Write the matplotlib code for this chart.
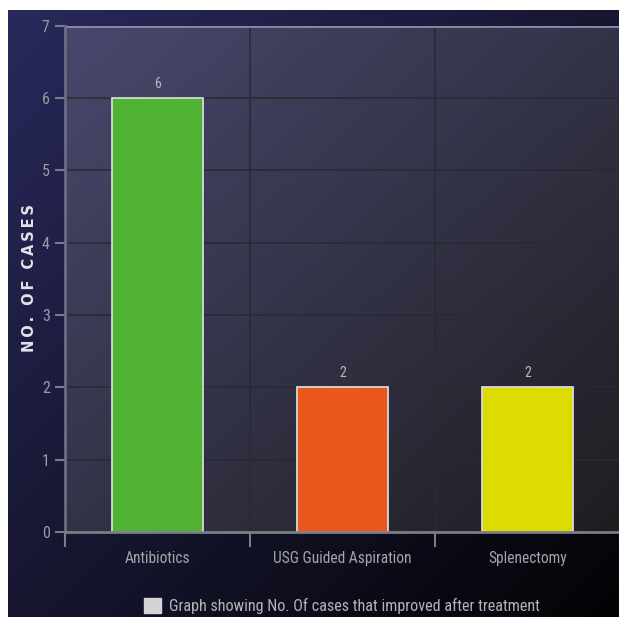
import numpy as np
import matplotlib
matplotlib.use("Agg")
import matplotlib.pyplot as plt
import matplotlib.patches as mpatches
from matplotlib.colors import to_rgb

categories = ["Antibiotics", "USG Guided Aspiration", "Splenectomy"]
cases = [6, 2, 2]
bar_colors = ["#4fb233", "#ea561c", "#dcdc00"]
y_ticks = [0, 1, 2, 3, 4, 5, 6, 7]
legend_label = "Graph showing No. Of cases that improved after treatment"

narrow = ["Roboto Condensed", "Roboto", "DejaVu Sans"]


def gradient(c0, c1, n=200):
    """diagonal gradient, c0 top-left -> c1 bottom-right"""
    a, b = np.array(to_rgb(c0)), np.array(to_rgb(c1))
    xx, yy = np.meshgrid(np.linspace(0, 1, n), np.linspace(0, 1, n))
    t = ((xx + yy) / 2.0)[..., None]
    return a * (1 - t) + b * t


fig = plt.figure(figsize=(6.19, 6.17), dpi=100)
fig.patch.set_facecolor("white")

# dark backdrop of the whole chart
bg = fig.add_axes([8 / 619, 0, 611 / 619, 607 / 617])
bg.imshow(gradient("#29295c", "#030305"), aspect="auto", extent=[0, 1, 0, 1])
bg.axis("off")

ax = fig.add_axes([65 / 619, 85 / 617, 555 / 619, 506.5 / 617])
ax.set_facecolor("none")
ax.imshow(gradient("#48486e", "#1e1e21"), aspect="auto", extent=[0, 1, 0, 1],
          transform=ax.transAxes, zorder=0)

x = np.arange(len(categories))
ax.bar(x, cases, width=0.49, color=bar_colors, edgecolor="#d8d8d8",
       linewidth=1.3, zorder=3)

for xi, v in zip(x, cases):
    ax.annotate(str(v), (xi, v), xytext=(0, 5), textcoords="offset points",
                ha="center", va="bottom", color="#b8b8c0", fontsize=10,
                family=narrow, zorder=4)

ax.set_xlim(-0.5, 2.5)
ax.set_ylim(0, 7)

# gridlines
for yv in y_ticks[1:-1]:
    ax.axhline(yv, color="#2a2a32", linewidth=1.1, zorder=1)
ax.axhline(7, color="#8a8aa4", linewidth=2, zorder=2)
for xv in [0.5, 1.5]:
    ax.axvline(xv, color="#2a2a32", linewidth=1.1, zorder=1)

for s in ["top", "right"]:
    ax.spines[s].set_visible(False)
ax.spines["left"].set_color("#6c6c84")
ax.spines["left"].set_linewidth(2)
ax.spines["bottom"].set_color("#7c7c84")
ax.spines["bottom"].set_linewidth(2)
ax.spines["left"].set_zorder(5)
ax.spines["bottom"].set_zorder(5)

ax.set_yticks(y_ticks)
ax.set_yticklabels([str(t) for t in y_ticks], family=narrow, fontsize=11.5,
                   color="#9a9aa4")
ax.tick_params(axis="y", length=7, width=1.5, color="#7c7c88", pad=4)

ax.set_xticks([-0.5, 0.5, 1.5, 2.5])
ax.set_xticklabels([])
ax.tick_params(axis="x", which="major", length=11, width=1.5, color="#7c7c84")
ax.set_xticks(x, minor=True)
ax.set_xticklabels(categories, minor=True, family=narrow, fontsize=11.2,
                   color="#a4a4a8")
ax.tick_params(axis="x", which="minor", length=0, pad=14)

fig.text(30 / 619, 1 - 278 / 617, "N\u2009O\u2009.\u2009 \u2009O\u2009F\u2009 \u2009C\u2009A\u2009S\u2009E\u2009S",
         rotation=90, ha="center", va="center", color="#e2e2e8",
         fontsize=10.5, fontweight="bold", family="DejaVu Sans")

handle = mpatches.Patch(facecolor="#d4d4d4", edgecolor="#d4d4d4", label=legend_label)
fig.legend(handles=[handle], loc="center", bbox_to_anchor=(342 / 619, 11 / 617),
           frameon=False, handlelength=1.05, handleheight=1.05, handletextpad=0.45,
           prop={"family": narrow, "size": 11.6}, labelcolor="#b4b4b8")

fig.savefig("out.png", dpi=100, facecolor=fig.get_facecolor())
